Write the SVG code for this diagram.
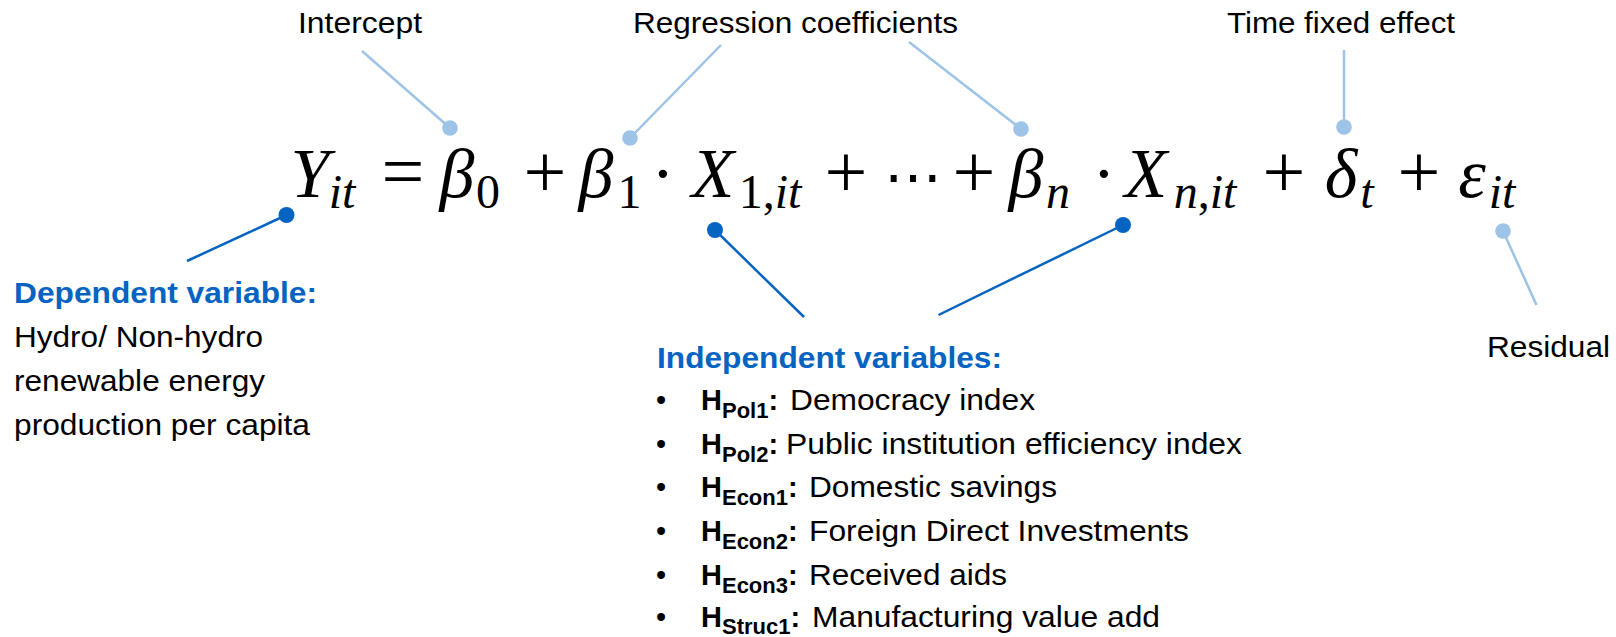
<svg xmlns="http://www.w3.org/2000/svg" width="1616" height="637" viewBox="0 0 1616 637">
<style>
.lbl{font-family:"Liberation Sans",Arial,sans-serif;font-size:29px;fill:#000}
.hd{font-weight:bold;fill:#0563C1}
.b{font-weight:bold}
.s{font-size:22px;font-weight:bold}
.eq{font-family:"Liberation Serif","DejaVu Serif",serif;font-size:70px;font-style:italic;text-anchor:middle;fill:#000}
.up{font-style:normal}
.op{font-style:normal;font-size:76px}
.sub{font-size:48px}
.dk{stroke:#0563C1;stroke-width:2.5;fill:none}
.lt{stroke:#9DC3E6;stroke-width:2.5;fill:none}
.dkd{fill:#0563C1}
.ltd{fill:#9DC3E6}
</style>
<rect width="1616" height="637" fill="#fff"/>
<g id="connectors">
<line class="lt" x1="362" y1="51" x2="450" y2="128"/><circle class="ltd" cx="450" cy="128" r="7.8"/>
<line class="lt" x1="721" y1="45" x2="630" y2="138"/><circle class="ltd" cx="630" cy="138" r="7.8"/>
<line class="lt" x1="909" y1="42" x2="1021" y2="129"/><circle class="ltd" cx="1021" cy="129" r="7.8"/>
<line class="lt" x1="1344" y1="50" x2="1344" y2="127"/><circle class="ltd" cx="1344" cy="127" r="7.8"/>
<line class="dk" x1="187" y1="261" x2="286.5" y2="215"/><circle class="dkd" cx="286.5" cy="215" r="8"/>
<line class="dk" x1="804" y1="317" x2="715" y2="230"/><circle class="dkd" cx="715" cy="230" r="8"/>
<line class="dk" x1="938.5" y1="315" x2="1123" y2="225"/><circle class="dkd" cx="1123" cy="225" r="8"/>
<line class="lt" x1="1536.5" y1="305" x2="1503" y2="231"/><circle class="ltd" cx="1503" cy="231" r="7.8"/>
</g>
<g id="equation">
<text class="eq"><tspan x="310" y="197">Y</tspan><tspan class="sub" x="342" y="208">it</tspan><tspan class="op" x="403" y="197">=</tspan><tspan x="457" y="197">β</tspan><tspan class="up sub" x="488" y="208">0</tspan><tspan class="op" x="545" y="197">+</tspan><tspan x="596" y="197">β</tspan><tspan class="up sub" x="629.5" y="208">1</tspan><tspan class="up" x="663" y="197">·</tspan><tspan x="713" y="197">X</tspan><tspan class="sub" x="770" y="208"><tspan class="up">1,</tspan>it</tspan><tspan class="op" x="846" y="197">+</tspan><tspan class="up" x="912.5" y="197" style="font-family:'DejaVu Serif',serif;font-size:58px">⋯</tspan><tspan class="op" x="974" y="197">+</tspan><tspan x="1026" y="197">β</tspan><tspan class="sub" x="1058" y="208">n</tspan><tspan class="up" x="1104" y="197">·</tspan><tspan x="1146" y="197">X</tspan><tspan class="sub" x="1205" y="208">n<tspan class="up">,</tspan>it</tspan><tspan class="op" x="1284" y="197">+</tspan><tspan x="1341" y="197">δ</tspan><tspan class="sub" x="1367" y="208">t</tspan><tspan class="op" x="1419" y="197">+</tspan><tspan x="1472" y="197">ε</tspan><tspan class="sub" x="1502" y="208">it</tspan></text>
</g>
<g id="label-intercept"><text class="lbl" x="298" y="33" textLength="124" lengthAdjust="spacingAndGlyphs">Intercept</text></g>
<g id="label-regression"><text class="lbl" x="633" y="33" textLength="325" lengthAdjust="spacingAndGlyphs">Regression coefficients</text></g>
<g id="label-time"><text class="lbl" x="1227" y="33" textLength="228" lengthAdjust="spacingAndGlyphs">Time fixed effect</text></g>
<g id="label-residual"><text class="lbl" x="1487" y="357" textLength="123" lengthAdjust="spacingAndGlyphs">Residual</text></g>
<g id="label-dependent">
<text class="lbl hd" x="14" y="303" textLength="303" lengthAdjust="spacingAndGlyphs">Dependent variable:</text>
<text class="lbl" x="14" y="347" textLength="249" lengthAdjust="spacingAndGlyphs">Hydro/ Non-hydro</text>
<text class="lbl" x="14" y="391" textLength="251" lengthAdjust="spacingAndGlyphs">renewable energy</text>
<text class="lbl" x="14" y="435" textLength="296" lengthAdjust="spacingAndGlyphs">production per capita</text>
</g>
<g id="label-independent">
<text class="lbl hd" x="657" y="368" textLength="345" lengthAdjust="spacingAndGlyphs">Independent variables:</text>
<text class="lbl" x="656" y="410">•</text>
<text class="lbl" x="701" y="410"><tspan class="b">H</tspan><tspan class="s" dy="8">Pol1</tspan><tspan class="b" dy="-8">:</tspan></text>
<text class="lbl" x="790" y="410" textLength="245" lengthAdjust="spacingAndGlyphs">Democracy index</text>
<text class="lbl" x="656" y="453.5">•</text>
<text class="lbl" x="701" y="453.5"><tspan class="b">H</tspan><tspan class="s" dy="8">Pol2</tspan><tspan class="b" dy="-8">:</tspan></text>
<text class="lbl" x="786" y="453.5" textLength="456" lengthAdjust="spacingAndGlyphs">Public institution efficiency index</text>
<text class="lbl" x="656" y="497">•</text>
<text class="lbl" x="701" y="497"><tspan class="b">H</tspan><tspan class="s" dy="8">Econ1</tspan><tspan class="b" dy="-8">:</tspan></text>
<text class="lbl" x="809" y="497" textLength="248" lengthAdjust="spacingAndGlyphs">Domestic savings</text>
<text class="lbl" x="656" y="541">•</text>
<text class="lbl" x="701" y="541"><tspan class="b">H</tspan><tspan class="s" dy="8">Econ2</tspan><tspan class="b" dy="-8">:</tspan></text>
<text class="lbl" x="809" y="541" textLength="380" lengthAdjust="spacingAndGlyphs">Foreign Direct Investments</text>
<text class="lbl" x="656" y="584.5">•</text>
<text class="lbl" x="701" y="584.5"><tspan class="b">H</tspan><tspan class="s" dy="8">Econ3</tspan><tspan class="b" dy="-8">:</tspan></text>
<text class="lbl" x="809" y="584.5" textLength="198" lengthAdjust="spacingAndGlyphs">Received aids</text>
<text class="lbl" x="656" y="627">•</text>
<text class="lbl" x="701" y="627"><tspan class="b">H</tspan><tspan class="s" dy="7">Struc1</tspan><tspan class="b" dy="-7">:</tspan></text>
<text class="lbl" x="812" y="627" textLength="348" lengthAdjust="spacingAndGlyphs">Manufacturing value add</text>
</g>
</svg>
